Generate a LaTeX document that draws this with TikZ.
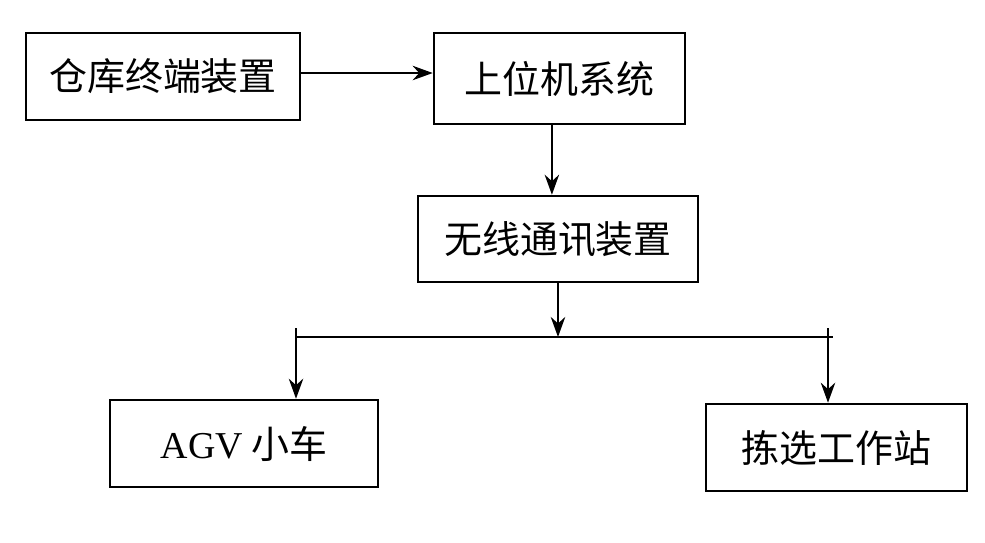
\documentclass[tikz,border=0pt]{standalone}
\usepackage{fontspec}
\setmainfont{Liberation Serif}
\newfontfamily\cjk{Noto Sans CJK SC}
\usepackage{tikz}
\usetikzlibrary{positioning,arrows.meta}

\begin{document}
\begin{tikzpicture}[
      x=0.025cm, y=-0.025cm,
      unit/.style={
        draw,
        line width=1.8pt,
        rectangle,
        inner sep=0pt,
        font=\fontsize{27}{30}\selectfont\cjk
      },
      link/.style={
        line width=1.8pt,
        -{Stealth[length=0.5cm,width=0.36cm]}
      }
    ]
    \useasboundingbox[fill=white] (0,0) rectangle (985,542);
    %% Units
    \node[unit, minimum width=6.85cm, minimum height=2.175cm] (term) at (163,76.5) {仓库终端装置};
    \node[unit, minimum width=6.275cm, minimum height=2.275cm] (upper) at (559.5,78.5) {上位机系统};
    \node[unit, minimum width=7cm, minimum height=2.15cm] (wifi) at (558,239) {无线通讯装置};
    \node[unit, minimum width=6.7cm, minimum height=2.175cm] (agv) at (244,443.5) {{\fontspec{Liberation Serif}AGV} 小车};
    \node[unit, minimum width=6.525cm, minimum height=2.175cm] (pick) at (836.5,447.5) {拣选工作站};
    %% Bus
    \coordinate (split) at (558,337);
    \coordinate (bus-l) at (296,337);
    \coordinate (bus-r) at (833,337);
    \coordinate (tick-l) at (296,328);
    \coordinate (tick-r) at (828,328);
    \draw[line width=1.8pt] (bus-l) -- (bus-r);
    %% Links
    \draw[link] (term.east |- 0,73) -- (upper.west |- 0,73);
    \draw[link] ([xshift=-0.19cm]upper.south) -- ([xshift=-0.19cm]upper.south |- wifi.north);
    \draw[link] (wifi.south) -- (split);
    \draw[link] (tick-l) -- (tick-l |- agv.north);
    \draw[link] (tick-r) -- (tick-r |- pick.north);
  \end{tikzpicture}
\end{document}
